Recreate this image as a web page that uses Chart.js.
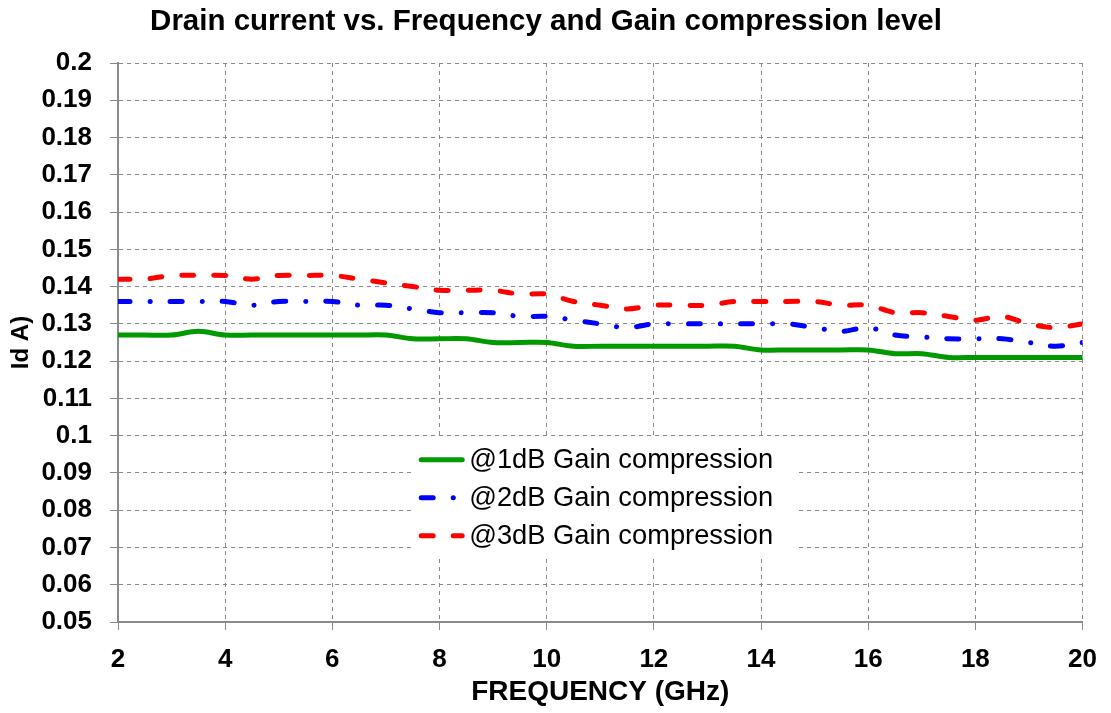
<!DOCTYPE html>
<html>
<head>
<meta charset="utf-8">
<script src="https://cdn.jsdelivr.net/npm/chart.js@4.4.1/dist/chart.umd.min.js"></script>
<style>
  html, body { margin: 0; padding: 0; background: #fff; }
  #wrap { width: 1111px; height: 713px; }
</style>
</head>
<body>
<div id="wrap"><canvas id="chart1"></canvas></div>
<script>
// data, 0.5 GHz steps
const freq = [2, 2.5, 3, 3.5, 4, 4.5, 5, 5.5, 6, 6.5, 7, 7.5, 8, 8.5, 9, 9.5, 10, 10.5, 11,
  11.5, 12, 12.5, 13, 13.5, 14, 14.5, 15, 15.5, 16, 16.5, 17, 17.5, 18, 18.5, 19, 19.5, 20];
const id1dB = [0.127, 0.127, 0.127, 0.128, 0.127, 0.127, 0.127, 0.127, 0.127, 0.127, 0.127,
  0.126, 0.126, 0.126, 0.125, 0.125, 0.125, 0.124, 0.124, 0.124, 0.124, 0.124, 0.124, 0.124,
  0.123, 0.123, 0.123, 0.123, 0.123, 0.122, 0.122, 0.121, 0.121, 0.121, 0.121, 0.121, 0.121];
const id2dB = [0.136, 0.136, 0.136, 0.136, 0.136, 0.135, 0.136, 0.136, 0.136, 0.135, 0.135,
  0.134, 0.133, 0.133, 0.133, 0.132, 0.132, 0.131, 0.130, 0.129, 0.130, 0.130, 0.130, 0.130,
  0.130, 0.130, 0.129, 0.128, 0.129, 0.127, 0.1265, 0.126, 0.126, 0.126, 0.125, 0.124, 0.125];
const id3dB = [0.142, 0.142, 0.143, 0.143, 0.143, 0.142, 0.143, 0.143, 0.143, 0.142, 0.141,
  0.140, 0.139, 0.139, 0.139, 0.138, 0.138, 0.136, 0.135, 0.134, 0.135, 0.135, 0.135, 0.136,
  0.136, 0.136, 0.136, 0.135, 0.135, 0.133, 0.133, 0.132, 0.131, 0.132, 0.130, 0.129, 0.130];
const seriesNames = ['@1dB Gain compression', '@2dB Gain compression', '@3dB Gain compression'];

const FONT = "'Liberation Sans', Arial, sans-serif";
const GRID = '#8a8a8a';

const pts = arr => freq.map((f, i) => ({ x: f, y: arr[i] }));

// legend sits inside the plot on a white box, like the original
const boxLegend = {
  id: 'boxLegend',
  afterDatasetsDraw(chart) {
    const { ctx, chartArea: a } = chart;
    const left = a.left + (a.right - a.left) * 0.304;
    const top = a.top + (a.bottom - a.top) * 0.672;
    ctx.save();
    ctx.fillStyle = '#fff';
    ctx.fillRect(left, top, 385, 117);
    ctx.font = '27.3px ' + FONT;
    ctx.textBaseline = 'middle';
    chart.data.datasets.forEach((ds, i) => {
      const y = top + 21 + i * 38;
      ctx.strokeStyle = ds.borderColor;
      ctx.lineWidth = ds.borderWidth;
      ctx.lineCap = 'round';
      ctx.setLineDash(ds.borderDash || []);
      ctx.beginPath();
      ctx.moveTo(left + 10, y);
      ctx.lineTo(left + 51, y);
      ctx.stroke();
      ctx.setLineDash([]);
      ctx.fillStyle = '#000';
      ctx.fillText(ds.label, left + 58, y + 1);
    });
    ctx.restore();
  }
};

new Chart(document.getElementById('chart1'), {
  type: 'line',
  data: {
    datasets: [
      { label: seriesNames[0], data: pts(id1dB), borderColor: '#009900', borderWidth: 5 },
      { label: seriesNames[1], data: pts(id2dB), borderColor: '#0000ff', borderWidth: 5,
        borderDash: [12, 20, 0.1, 20] },
      { label: seriesNames[2], data: pts(id3dB), borderColor: '#ff0000', borderWidth: 5,
        borderDash: [12, 20] }
    ]
  },
  options: {
    responsive: true,
    maintainAspectRatio: false,
    animation: false,
    layout: { padding: { left: 7, right: 26, top: 0, bottom: 0 } },
    elements: {
      point: { radius: 0 },
      line: { tension: 0.35, borderCapStyle: 'round', fill: false }
    },
    plugins: {
      legend: { display: false },
      tooltip: { enabled: false },
      title: {
        display: true,
        text: 'Drain current vs. Frequency and Gain compression level',
        color: '#000',
        font: { family: FONT, size: 29.5, weight: 'bold', lineHeight: 1.2 },
        padding: { top: 4, bottom: 23.6 }
      }
    },
    scales: {
      x: {
        type: 'linear',
        min: 2, max: 20,
        ticks: { stepSize: 2, color: '#000', padding: 14,
          font: { family: FONT, size: 26, weight: 'bold' } },
        grid: { color: GRID, tickLength: 8, tickBorderDash: [] },
        border: { color: GRID, width: 2, dash: [4, 4] },
        title: { display: true, text: 'FREQUENCY (GHz)', color: '#000', padding: { top: 2 },
          font: { family: FONT, size: 28, weight: 'bold' } },
        afterFit: s => { s.height = 91; }
      },
      y: {
        min: 0.05, max: 0.2,
        ticks: { stepSize: 0.01, color: '#000', padding: 18,
          font: { family: FONT, size: 26, weight: 'bold' },
          callback: v => String(+v.toFixed(2)) },
        grid: { color: GRID, tickLength: 8, tickBorderDash: [] },
        border: { color: GRID, width: 2, dash: [4, 4] },
        title: { display: true, text: 'Id A)', color: '#000', padding: 0,
          font: { family: FONT, size: 24, weight: 'bold' } },
        afterFit: s => { s.width = 111; }
      }
    }
  },
  plugins: [boxLegend]
});
</script>
</body>
</html>
